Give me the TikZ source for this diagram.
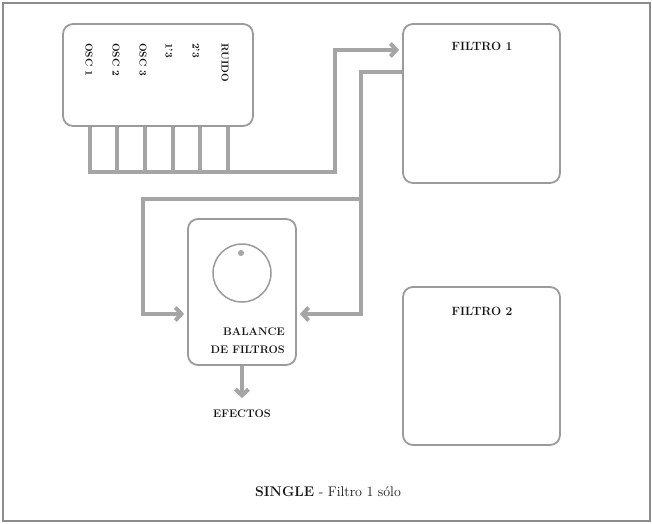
\documentclass[tikz,border=0pt]{standalone}
\usepackage{fontspec}
\usetikzlibrary{arrows.meta}
\definecolor{conn}{RGB}{165,165,165}
\definecolor{bord}{RGB}{155,155,155}
\definecolor{frm}{RGB}{140,140,140}
\definecolor{txt}{RGB}{20,20,20}
\tikzset{
  box/.style={draw=bord, line width=1.8pt, rounded corners=10pt, inner sep=0pt},
  wire/.style={draw=conn, line width=4pt},
  arr/.style={-{Straight Barb[length=6pt,width=13pt]}, shorten >=3pt},
  lbl/.style={text=txt, inner sep=0pt, font=\fontsize{11}{18}\selectfont\bfseries},
  vlbl/.style={text=txt, inner sep=0pt, rotate=-90, anchor=west, font=\fontsize{10}{12}\selectfont\bfseries},
}
\begin{document}
\begin{tikzpicture}[x=1pt,y=-1pt]
\useasboundingbox (0,0) rectangle (652,523);
\draw[frm, line width=1.5pt] (3,3) rectangle (650,521);

% boxes
\node[box, minimum width=190pt, minimum height=102pt] (src) at (158,75) {};
\node[box, minimum width=157pt, minimum height=159pt] (f1) at (481.5,103.5) {};
\node[box, minimum width=157pt, minimum height=158pt] (f2) at (481.5,366) {};
\node[box, minimum width=108pt, minimum height=146pt] (bal) at (242,292) {};

% source labels
\node[vlbl] (l1) at (89,43) {OSC 1};
\node[vlbl] (l2) at (116,43) {OSC 2};
\node[vlbl] (l3) at (143,43) {OSC 3};
\node[vlbl] (l4) at (169,43) {1'3};
\node[vlbl] (l5) at (196,43) {2'3};
\node[vlbl] (l6) at (225,43) {RUIDO};

% filter labels
\node[lbl, font=\fontsize{12}{14}\selectfont\bfseries] (t1) at (482,46) {FILTRO 1};
\node[lbl, font=\fontsize{12}{14}\selectfont\bfseries] (t2) at (482,311) {FILTRO 2};

% knob
\node[circle, draw=bord, line width=1.5pt, minimum size=58pt, inner sep=0pt] (knob) at (242,273) {};
\node[circle, fill=conn, minimum size=6pt, inner sep=0pt] (dot) at (241,253) {};
\node[lbl, align=right, anchor=east] (bt) at (285,341) {BALANCE\\DE FILTROS};

% source bus
\foreach \x in {117,145,173,200,228}
  \draw[wire] (src.south -| \x,0) -- (\x,172);
\draw[wire, arr] (src.south -| 90,0) -- (90,172) -- (335,172) -- (335,50) -- (f1.west |- 0,50);

% filter 1 return
\coordinate (j) at (361,199);
\draw[wire] (f1.west |- 0,72) -- (361,72) -- (j);
\draw[wire, arr] (j) -- (143,199) -- (143,314) -- (bal.west |- 0,314);
\draw[wire, arr] (j) -- (361,314) -- (bal.east |- 0,314);

% output
\node[lbl] (ef) at (242,414) {EFECTOS};
\draw[wire, arr, shorten >=0pt] (bal.south) -- (242,398);

% caption
\node[text=txt, inner sep=0pt, font=\fontsize{14}{16}\selectfont] (cap) at (328,492) {\textbf{SINGLE} - Filtro 1 sólo};
\end{tikzpicture}
\end{document}
